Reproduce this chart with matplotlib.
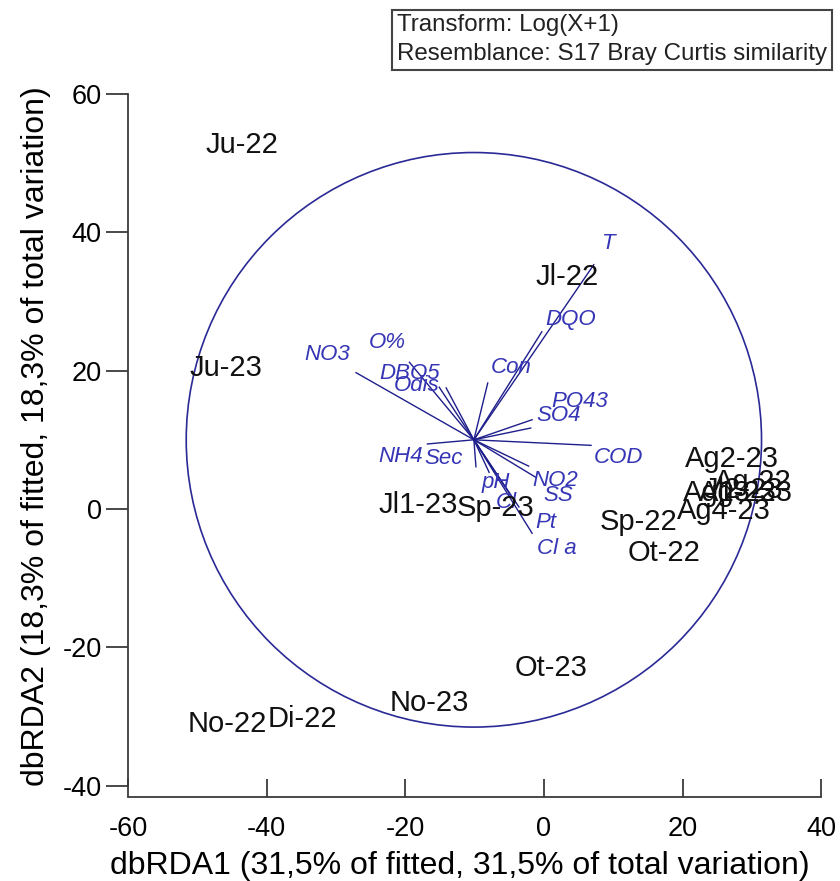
import matplotlib
matplotlib.use('Agg')
import matplotlib.pyplot as plt
from matplotlib.patches import Circle, Rectangle

plt.rcParams['font.family'] = ['Liberation Sans', 'DejaVu Sans']
plt.rcParams['axes.unicode_minus'] = False

# sample scores (dbRDA1, dbRDA2)
samples = ['Ju-22', 'Ju-23', 'Jl-22', 'Jl1-23', 'Sp-23', 'Sp-22', 'Ot-22',
           'Ag2-23', 'Ag-22', 'Ag1-23', 'Ag3-23', 'Jl2-23', 'Ag4-23',
           'Ot-23', 'No-23', 'No-22', 'Di-22']
rda1 = [-43.5, -45.9, 3.3, -18.1, -6.9, 13.7, 17.3,
        27.1, 30.2, 26.8, 29.1, 28.8, 25.9,
        1.0, -16.5, -45.6, -34.8]
rda2 = [52.6, 20.4, 33.5, 0.6, 0.1, -1.9, -6.4,
        7.2, 3.9, 2.3, 2.3, 2.7, -0.3,
        -23.0, -28.0, -31.0, -30.3]

# environmental vectors (end points, plot units)
variables = ['NO3', 'O%', 'DBO5', 'Odis', 'Con', 'DQO', 'T', 'PO43', 'SO4',
             'COD', 'NH4', 'Sec', 'pH', 'NO2', 'SS', 'Cl', 'Pt', 'Cl a']
vec_x = [-27.1, -19.4, -15.1, -14.1, -8.1, -0.3, 7.2, -1.7, -1.9,
         6.8, -16.8, -9.8, -7.9, -2.2, -1.2, -5.0, -3.6, -1.7]
vec_y = [19.7, 21.2, 17.6, 17.5, 18.2, 25.6, 35.3, 12.9, 11.7,
         9.2, 9.4, 6.1, 5.3, 6.2, 4.6, 2.3, 0.3, -3.5]
origin = (-10.1, 10.0)
circle_r = 41.5

# label offsets in points from vector end
lab_off = {'NO3': (-21, 13), 'O%': (-16, 14), 'DBO5': (-21, 10), 'Odis': (-21, 2),
           'Con': (17, 11), 'DQO': (21, 9), 'T': (11, 15), 'PO43': (34, 13),
           'SO4': (20, 9), 'COD': (20, -9), 'NH4': (-19, -9), 'Sec': (-23, 6),
           'pH': (5, -7), 'NO2': (19, -10), 'SS': (16, -13), 'Cl': (-2, -7),
           'Pt': (19, -11), 'Cl a': (18, -11)}

fig = plt.figure(figsize=(8.4, 8.81), dpi=100)
ax = fig.add_axes([128 / 840, 1 - 797 / 881, 707 / 840, 722 / 881])
ax.set_xlim(-60, 42)
ax.set_ylim(-41.6, 62.7)

axis_col = '#3a3a3a'
for s in ['top', 'right']:
    ax.spines[s].set_visible(False)
ax.spines['left'].set_bounds(-40, 60)
ax.spines['bottom'].set_bounds(-60, 40)
for s in ['left', 'bottom']:
    ax.spines[s].set_color(axis_col)
    ax.spines[s].set_linewidth(1.3)

ax.set_xticks([-60, -40, -20, 0, 20, 40])
ax.set_yticks([-40, -20, 0, 20, 40, 60])
ax.tick_params(axis='x', direction='in', length=13, width=1.3, color=axis_col,
               pad=14, labelsize=19.5)
ax.tick_params(axis='y', direction='out', length=16, width=1.3, color=axis_col,
               pad=3, labelsize=19.5)

ax.set_xlabel('dbRDA1 (31,5% of fitted, 31,5% of total variation)', fontsize=23, labelpad=5)
ax.xaxis.set_label_coords(0.47, -0.075)
ax.set_ylabel('dbRDA2 (18,3% of fitted, 18,3% of total variation)', fontsize=23, labelpad=8)

# correlation circle
ax.add_patch(Circle(origin, circle_r, fill=False, edgecolor='#2a2a96', linewidth=1.2))

# vectors
line_col = '#1e1e8c'
text_col = '#3535b5'
for name, vx, vy in zip(variables, vec_x, vec_y):
    ax.plot([origin[0], vx], [origin[1], vy], color=line_col, linewidth=1.0)
    ax.annotate(name, (vx, vy), xytext=lab_off[name], textcoords='offset points',
                ha='center', va='center', fontsize=16, style='italic', color=text_col)

# sample labels
for name, x, y in zip(samples, rda1, rda2):
    ax.text(x, y, name, ha='center', va='center', fontsize=21, color='#111111')

# info box
fig.patches.append(Rectangle((392 / 840, 1 - 70 / 881), 440 / 840, 60 / 881,
                             transform=fig.transFigure, fill=False,
                             edgecolor='#444444', linewidth=1.5))
fig.text(397 / 840, 1 - 25 / 881, 'Transform: Log(X+1)', fontsize=17.4,
         ha='left', va='center', color='#222222')
fig.text(397 / 840, 1 - 54 / 881, 'Resemblance: S17 Bray Curtis similarity', fontsize=17.4,
         ha='left', va='center', color='#222222')

plt.savefig('out.png', dpi=100)
